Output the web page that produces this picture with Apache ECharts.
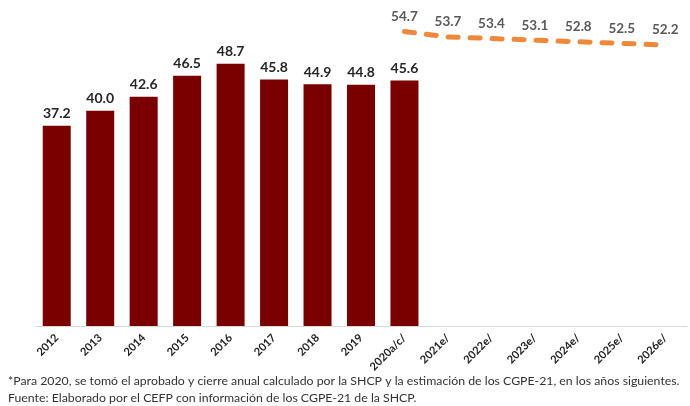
<!DOCTYPE html>
<html>
<head>
<meta charset="utf-8">
<script src="https://cdn.jsdelivr.net/npm/echarts@6/dist/echarts.min.js"></script>
<style>
html,body{margin:0;padding:0;background:#fff;}
#c{width:690px;height:406px;}
</style>
</head>
<body>
<div id="c"></div>
<script>
const categories = ['2012','2013','2014','2015','2016','2017','2018','2019','2020a/c/','2021e/','2022e/','2023e/','2024e/','2025e/','2026e/'];
const barValues = [37.2, 40.0, 42.6, 46.5, 48.7, 45.8, 44.9, 44.8, 45.6, null, null, null, null, null, null];
const lineValues = [null, null, null, null, null, null, null, null, 54.7, 53.7, 53.4, 53.1, 52.8, 52.5, 52.2];
const footnote1 = '*Para 2020, se tomó el aprobado y cierre anual calculado por la SHCP y la estimación de los CGPE-21, en los años siguientes.';
const footnote2 = 'Fuente: Elaborado por el CEFP con información de los CGPE-21 de la SHCP.';

const chart = echarts.init(document.getElementById('c'));
const font = 'Lato, "Open Sans", sans-serif';
const fmt = p => (p.value == null || p.value === '-') ? '' : Number(p.value).toFixed(1);
chart.setOption({
  animation: false,
  textStyle: { fontFamily: font },
  grid: { left: 35, right: 3, top: 3, bottom: 80 },
  xAxis: {
    type: 'category',
    data: categories,
    axisLine: { lineStyle: { color: '#d9d9d9', width: 1 } },
    axisTick: { show: false },
    axisLabel: { rotate: 45, fontSize: 11, fontWeight: 'bold', color: '#222', interval: 0, margin: 10, fontFamily: font }
  },
  yAxis: { type: 'value', min: 0, max: 60, show: false, splitLine: { show: false } },
  series: [
    {
      type: 'bar',
      data: barValues,
      barWidth: 28,
      itemStyle: { color: '#7a0000' },
      label: { show: true, position: 'top', distance: 5, fontSize: 14, fontWeight: 'bold', color: '#262626', fontFamily: font, formatter: fmt }
    },
    {
      type: 'line',
      data: lineValues,
      symbol: 'circle',
      symbolSize: 2,
      showSymbol: true,
      itemStyle: { color: 'rgba(240,136,58,0)', borderWidth: 0 },
      connectNulls: false,
      clip: false,
      lineStyle: { color: '#f0883a', width: 5, type: [10, 12], cap: 'round' },
      label: { show: true, position: 'top', distance: 7, fontSize: 13.5, fontWeight: 'bold', color: '#595959', fontFamily: font, formatter: fmt }
    }
  ],
  graphic: [
    { type: 'text', left: 8, top: 375, style: { text: footnote1, fontSize: 12.3, fill: '#333', fontFamily: font } },
    { type: 'text', left: 8, top: 392, style: { text: footnote2, fontSize: 12.3, fill: '#333', fontFamily: font } }
  ]
});
</script>
</body>
</html>
